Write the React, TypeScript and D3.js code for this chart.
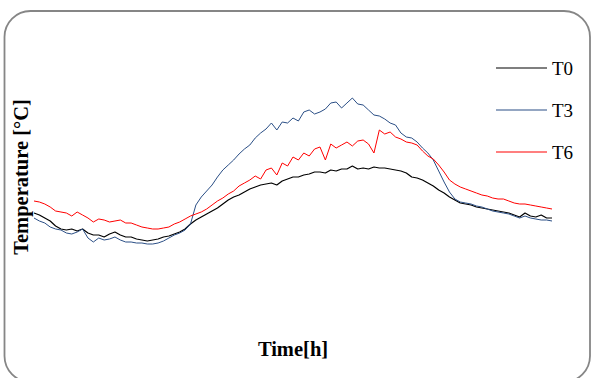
import { useMemo } from "react";
import * as d3 from "d3";

// sample times, every quarter hour over one day
const hours: number[] = d3.range(0, 24.001, 0.25);

// temperature readings [°C]
const t0: number[] = [
  24.7, 24.5, 24.2, 23.9, 23.4, 23.1, 23.0, 23.1, 22.9, 23.1,
  22.7, 22.5, 22.5, 22.3, 22.6, 22.8, 22.5, 22.3, 22.3, 22.1,
  22.0, 21.9, 22.0, 22.1, 22.3, 22.4, 22.6, 22.8, 23.1, 23.6,
  24.0, 24.3, 24.6, 24.9, 25.2, 25.6, 26.0, 26.3, 26.5, 26.8,
  27.1, 27.3, 27.5, 27.6, 27.7, 27.5, 27.9, 28.1, 28.3, 28.3,
  28.5, 28.6, 28.8, 28.8, 28.7, 29.0, 28.9, 29.1, 29.1, 29.4,
  29.1, 29.2, 29.1, 29.3, 29.2, 29.2, 29.1, 29.0, 28.9, 28.7,
  28.3, 28.2, 28.0, 27.7, 27.4, 27.0, 26.7, 26.3, 26.0, 25.7,
  25.6, 25.5, 25.3, 25.2, 25.1, 25.0, 24.9, 24.8, 24.7, 24.5,
  24.3, 24.7, 24.4, 24.3, 24.5, 24.2, 24.2,
];

const t3: number[] = [
  24.2, 23.9, 23.7, 23.3, 23.1, 23.0, 22.7, 22.6, 22.8, 23.1,
  22.2, 21.8, 22.2, 22.0, 22.1, 22.3, 22.0, 21.8, 21.8, 21.7,
  21.7, 21.6, 21.6, 21.7, 21.9, 22.2, 22.5, 22.7, 23.0, 23.6,
  25.5, 26.3, 26.9, 27.5, 28.3, 29.0, 29.5, 30.0, 30.6, 31.1,
  31.5, 32.2, 32.7, 33.1, 33.7, 33.0, 33.8, 33.7, 34.2, 33.9,
  34.8, 35.0, 34.6, 34.8, 35.1, 35.7, 35.8, 35.2, 35.7, 36.2,
  35.6, 35.5, 35.0, 34.5, 34.4, 34.1, 33.7, 33.5, 32.7, 32.3,
  32.2, 31.8, 31.2, 30.7, 30.0, 28.9, 27.8, 26.8, 26.1, 25.8,
  25.7, 25.6, 25.4, 25.3, 25.1, 24.9, 24.8, 24.7, 24.6, 24.4,
  24.2, 24.4, 24.2, 24.1, 24.0, 24.0, 23.9,
];

const t6: number[] = [
  25.9, 25.8, 25.6, 25.3, 24.9, 24.8, 24.7, 24.4, 24.8, 24.5,
  24.2, 23.8, 24.1, 24.0, 23.8, 23.9, 24.0, 23.7, 23.7, 23.5,
  23.3, 23.2, 23.1, 23.1, 23.2, 23.3, 23.6, 23.8, 24.1, 24.4,
  24.6, 24.8, 25.1, 25.5, 25.9, 26.2, 26.6, 26.9, 27.4, 27.7,
  28.0, 28.4, 28.1, 29.0, 29.2, 28.5, 29.7, 29.4, 30.3, 30.0,
  30.7, 30.4, 31.1, 31.3, 30.0, 31.6, 31.2, 31.5, 31.8, 31.4,
  31.9, 32.0, 31.6, 30.7, 33.0, 32.6, 32.8, 32.3, 32.1, 31.8,
  31.7, 31.5, 30.9, 30.4, 30.1, 29.5, 28.8, 28.0, 27.6, 27.3,
  27.1, 26.9, 26.7, 26.5, 26.4, 26.2, 26.1, 26.1, 25.9, 25.7,
  25.6, 25.6, 25.5, 25.4, 25.3, 25.2, 25.1,
];

const seriesNames = ["T0", "T3", "T6"];
const seriesColors = ["#000000", "#2b4f86", "#ff0000"];

export default function App() {
  const width = 592;
  const height = 378;
  const plot = { left: 34, right: 552, top: 60, bottom: 260 };

  const x = d3.scaleLinear().domain([0, 24]).range([plot.left, plot.right]);
  const y = d3.scaleLinear().domain([20, 40]).range([plot.bottom, plot.top]);

  const paths = useMemo(() => {
    const line = d3
      .line<number>()
      .x((_, i) => x(hours[i]))
      .y((d) => y(d));
    return [t0, t3, t6].map((s) => line(s) ?? "");
  }, []);

  const legendY = d3.scalePoint<string>().domain(seriesNames).range([68, 152]);
  const serif: React.CSSProperties = {
    fontFamily: "\"Liberation Serif\", \"Times New Roman\", \"DejaVu Serif\", serif",
  };

  return (
    <svg
      width={width}
      height={height}
      style={{ position: "absolute", left: 0, top: 0, background: "#fff" }}
    >
      <rect
        x={4.5}
        y={11}
        width={585.5}
        height={371}
        rx={26}
        fill="#fff"
        stroke="#868686"
        strokeWidth={1.8}
      />

      {paths.map((d, i) => (
        <path
          key={seriesNames[i]}
          d={d}
          fill="none"
          stroke={seriesColors[i]}
          strokeWidth={i === 0 ? 1.2 : 1}
          strokeLinejoin="round"
        />
      ))}

      {seriesNames.map((name, i) => {
        const ly = legendY(name) ?? 0;
        return (
          <g key={name}>
            <line x1={496} x2={547} y1={ly} y2={ly} stroke={seriesColors[i]} strokeWidth={1.2} />
            <text x={552} y={ly + 6.5} style={serif} fontSize={19} fill="#000">
              {name}
            </text>
          </g>
        );
      })}

      <text
        transform="translate(28,177) rotate(-90)"
        textAnchor="middle"
        style={serif}
        fontWeight="bold"
        fontSize={20.5}
        fill="#000"
      >
        Temperature [°C]
      </text>
      <text
        x={293}
        y={356}
        textAnchor="middle"
        style={serif}
        fontWeight="bold"
        fontSize={20.5}
        fill="#000"
      >
        Time[h]
      </text>
    </svg>
  );
}
